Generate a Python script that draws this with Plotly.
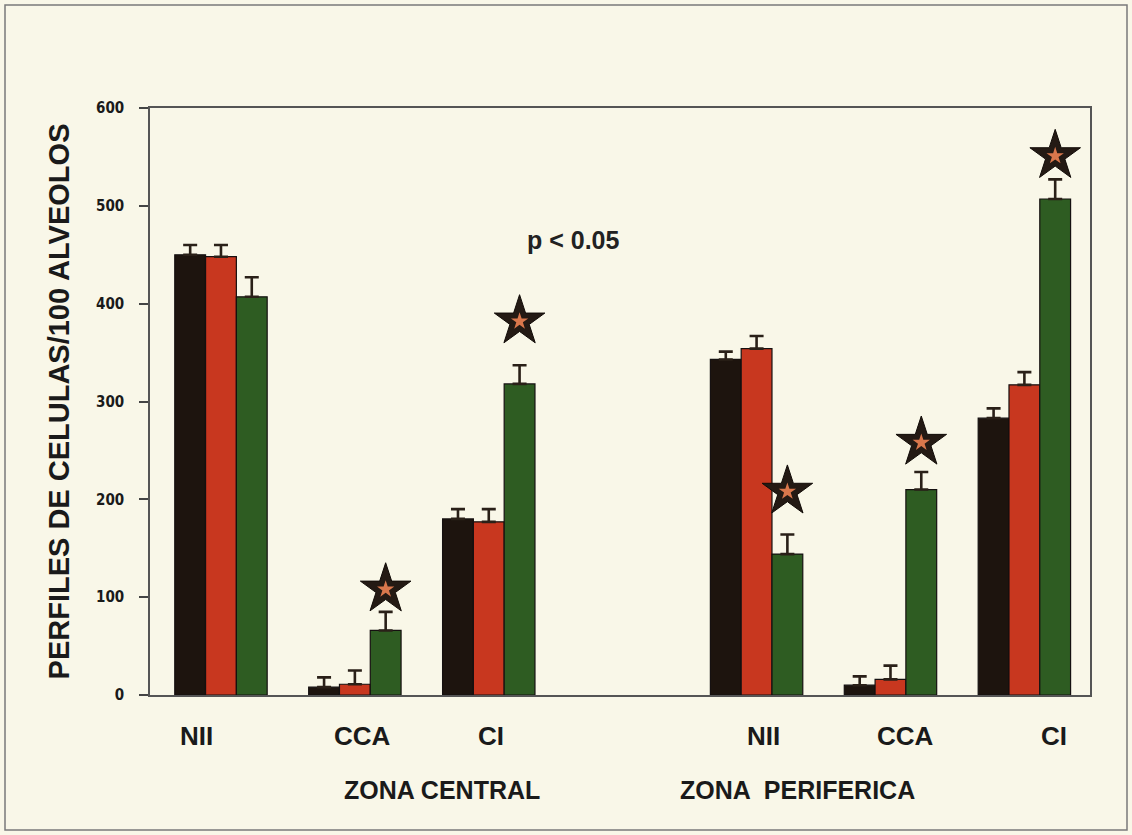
import plotly.graph_objects as go

# ---------------- data ----------------
categories = ["NII", "CCA", "CI", "NII", "CCA", "CI"]
zones = ["ZONA CENTRAL", "ZONA  PERIFERICA"]
positions = [0, 1, 2, 4, 5, 6]

black_vals = [450, 8, 180, 343, 10, 283]
black_err = [10, 10, 10, 8, 9, 10]
red_vals = [448, 11, 177, 354, 16, 317]
red_err = [12, 14, 13, 13, 14, 13]
green_vals = [407, 66, 318, 144, 210, 507]
green_err = [20, 19, 19, 20, 18, 20]

star_idx = [1, 2, 3, 4, 5]            # categories marked as significant
star_heights = [108, 382, 208, 258, 551]
y_ticks = [0, 100, 200, 300, 400, 500, 600]
p_text = "p < 0.05"

# ---------------- style ----------------
W, H = 1132, 835
L, R, T, B = 150, 42, 108, 140
bargap = 0.31
bar_w = (1 - bargap) / 3
label_offsets = [-0.18, 0.06, 0.02, 0.05, 0.11, 0.22]
colors = ["#1d140e", "#c8371f", "#2e5c22"]
bg = "#f9f7e8"
ink = "#1a1a1a"
narrow = "Liberation Sans Narrow, DejaVu Sans Condensed, Arial Narrow, Liberation Sans, Arial"
sans = "Liberation Sans, Arial, Helvetica"

fig = go.Figure()
for vals, errs, col, name in [(black_vals, black_err, colors[0], "serie 1"),
                              (red_vals, red_err, colors[1], "serie 2"),
                              (green_vals, green_err, colors[2], "serie 3")]:
    fig.add_trace(go.Bar(
        x=positions, y=vals, name=name, showlegend=False,
        marker=dict(color=col, line=dict(color="#151010", width=1.2)),
        error_y=dict(type="data", array=errs, arrayminus=[0] * len(errs),
                     symmetric=False, color="#2a2018", thickness=2.6, width=7),
    ))

star_x = [positions[i] + bar_w for i in star_idx]
fig.add_trace(go.Scatter(
    x=star_x, y=star_heights, mode="markers", showlegend=False,
    marker=dict(symbol="star", size=38, color="#241a14",
                line=dict(color="#120c08", width=1)),
    hoverinfo="skip"))
fig.add_trace(go.Scatter(
    x=star_x, y=star_heights, mode="markers", showlegend=False,
    marker=dict(symbol="star", size=13, color="#d9774c"),
    hoverinfo="skip"))

pw = W - L - R
ph = H - T - B

def px2paper_x(px):
    return (px - L) / pw

def px2paper_y(py):
    return (H - B - py) / ph

annotations = []
for cat, pos, off in zip(categories, positions, label_offsets):
    annotations.append(dict(
        x=pos + off, xref="x", y=px2paper_y(736), yref="paper",
        text=cat, showarrow=False, xanchor="center", yanchor="middle",
        font=dict(family=sans, size=26, color=ink, weight="bold")))
for z, cx in zip(zones, [442, 797]):
    annotations.append(dict(
        x=px2paper_x(cx), xref="paper", y=px2paper_y(790), yref="paper",
        text=z, showarrow=False, xanchor="center", yanchor="middle",
        font=dict(family=sans, size=25, color=ink, weight="bold")))
annotations.append(dict(
    x=px2paper_x(573), xref="paper", y=px2paper_y(240), yref="paper",
    text=p_text, showarrow=False, xanchor="center", yanchor="middle",
    font=dict(family=sans, size=25, color="#222222", weight="bold")))

fig.update_layout(
    width=W, height=H,
    margin=dict(l=L, r=R, t=T, b=B, autoexpand=False),
    paper_bgcolor=bg, plot_bgcolor=bg,
    barmode="group", bargap=bargap, bargroupgap=0,
    showlegend=False,
    annotations=annotations,
    shapes=[dict(type="rect", xref="paper", yref="paper",
                 x0=px2paper_x(5), x1=px2paper_x(1127),
                 y0=px2paper_y(830), y1=px2paper_y(5),
                 line=dict(color="#7a7a7a", width=1.5), layer="below")],
)
fig.update_xaxes(
    range=[-0.53, 6.49], showgrid=False, zeroline=False,
    showticklabels=False, ticks="",
    showline=True, mirror=True, linecolor="#555555", linewidth=1.5)
fig.update_yaxes(
    range=[0, 600], tickvals=y_ticks, showgrid=False, zeroline=False,
    ticks="outside", ticklen=9, tickcolor="#444444", tickwidth=1.5,
    ticklabelstandoff=12,
    tickfont=dict(family=narrow, size=15, color=ink, weight="bold"),
    showline=True, mirror=True, linecolor="#555555", linewidth=1.5,
    title=dict(text="PERFILES DE CELULAS/100 ALVEOLOS", standoff=18,
               font=dict(family=sans, size=29, color=ink, weight="bold")))

fig.write_html("out.html")
